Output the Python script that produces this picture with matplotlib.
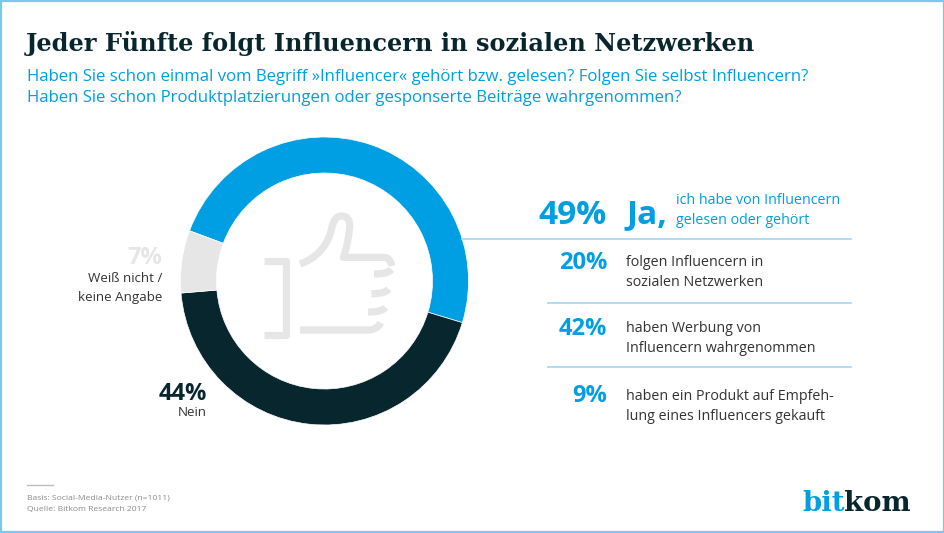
import matplotlib
matplotlib.use("Agg")
import matplotlib.pyplot as plt
from matplotlib.patches import PathPatch, Rectangle
from matplotlib.path import Path

W, H = 945, 533
BLUE = "#009fe3"
DARK = "#08262e"
GREY = "#e6e6e6"
LINE = "#a6dcf5"
TEXT = "#333333"

title = "Jeder Fünfte folgt Influencern in sozialen Netzwerken"
subtitle = ["Haben Sie schon einmal vom Begriff »Influencer« gehört bzw. gelesen? Folgen Sie selbst Influencern?",
            "Haben Sie schon Produktplatzierungen oder gesponserte Beiträge wahrgenommen?"]

answers = ["Ja", "Nein", "Weiß nicht / keine Angabe"]
shares = [49, 44, 7]
answer_colors = [BLUE, DARK, GREY]

detail_values = ["20%", "42%", "9%"]
detail_labels = [["folgen Influencern in", "sozialen Netzwerken"],
                 ["haben Werbung von", "Influencern wahrgenommen"],
                 ["haben ein Produkt auf Empfeh-", "lung eines Influencers gekauft"]]
footnotes = ["Basis: Social-Media-Nutzer (n=1011)", "Quelle: Bitkom Research 2017"]

plt.rcParams["font.family"] = ["Open Sans", "Lato", "DejaVu Sans"]
fig = plt.figure(figsize=(W / 100, H / 100), dpi=100, facecolor="white")

# overlay in pixel coordinates for the text and rules
ov = fig.add_axes([0, 0, 1, 1], zorder=2)
ov.set_xlim(0, W)
ov.set_ylim(H, 0)
ov.axis("off")
ov.patch.set_alpha(0)

# donut
cx, cy, R = 324.5, 281, 144
ax = fig.add_axes([(cx - R) / W, 1 - (cy + R) / H, 2 * R / W, 2 * R / H], zorder=1)
ax.pie(shares, colors=answer_colors, startangle=159.6, counterclock=False, radius=1,
       wedgeprops=dict(width=36 / 144, edgecolor="white", linewidth=0.5))
ax.set_xlim(-1, 1)
ax.set_ylim(-1, 1)

# border
ov.add_patch(Rectangle((0.5, 0.5), W - 1.5, H - 2, fill=False, ec="#7cc8ec", lw=1.6))


def stroke(points, codes):
    verts = [(170 + p[0] / 3, 130 + p[1] / 3) for p in points]
    ov.add_patch(PathPatch(Path(verts, codes), fc="none", ec=GREY, lw=5.2, capstyle="butt", joinstyle="round"))


M, L, C = Path.MOVETO, Path.LINETO, Path.CURVE4
# cuff
stroke([(283, 392), (348, 392), (348, 615), (283, 615)], [M, L, L, L])
# thumb and top of the hand
stroke([(390, 402), (440, 385), (475, 345), (485, 295),
        (490, 270), (500, 258), (515, 258),
        (535, 258), (542, 275), (538, 300),
        (535, 330), (528, 360), (520, 382),
        (640, 382),
        (655, 382), (663, 392), (665, 408)],
       [M, C, C, C, C, C, C, C, C, C, C, C, C, L, C, C, C])
# bottom of the hand
stroke([(390, 600), (595, 600), (612, 600), (625, 592), (632, 578)], [M, L, C, C, C])
# fingers
for x0, y0 in [(612, 432), (604, 491), (594, 546)]:
    stroke([(x0, y0), (x0 + 28, y0), (x0 + 45, y0 - 4), (x0 + 52, y0 - 14)], [M, C, C, C])

# header
ov.text(26, 43, title, family="DejaVu Serif", weight="bold", fontsize=17.3, color=DARK, va="center")
ov.text(27, 77, subtitle[0], fontsize=12.1, color=BLUE, va="center")
ov.text(27, 98, subtitle[1], fontsize=12.1, color=BLUE, va="center")

# donut labels
ov.text(162, 258, f"{shares[2]}%", fontsize=17, weight="bold", color=GREY, ha="right", va="center")
ov.text(162, 279, "Weiß nicht /", fontsize=9.6, color=TEXT, ha="right", va="center")
ov.text(162, 297, "keine Angabe", fontsize=9.6, color=TEXT, ha="right", va="center")
ov.text(207, 394, f"{shares[1]}%", fontsize=17, weight="bold", color=DARK, ha="right", va="center")
ov.text(207, 413, answers[1], fontsize=9.6, color=TEXT, ha="right", va="center")

# right panel
ov.text(607, 215, f"{shares[0]}%", fontsize=24, weight="bold", color=BLUE, ha="right", va="center")
ov.text(626, 215, answers[0] + ",", fontsize=24, weight="bold", color=BLUE, va="center")
ov.text(676, 201, "ich habe von Influencern", fontsize=10.3, color=BLUE, va="center")
ov.text(676, 220, "gelesen oder gehört", fontsize=10.3, color=BLUE, va="center")
ov.plot([462, 851], [239, 239], color=LINE, lw=1.3)

row_y = [263, 329, 396]
rule_y = [303, 367]
for val, lab, y in zip(detail_values, detail_labels, row_y):
    ov.text(607, y, val, fontsize=17, weight="bold", color=BLUE, ha="right", va="center")
    ov.text(626, y, lab[0], fontsize=10.3, color=TEXT, va="center")
    ov.text(626, y + 20, lab[1], fontsize=10.3, color=TEXT, va="center")
for y in rule_y:
    ov.plot([548, 851], [y, y], color=LINE, lw=1.3)

# footnote
ov.plot([27, 53], [485, 485], color="#bdbdbd", lw=1)
ov.text(27, 498, footnotes[0], fontsize=6.1, color="#8a8a8a", va="center")
ov.text(27, 509, footnotes[1], fontsize=6.1, color="#8a8a8a", va="center")

# logo
ov.text(802, 511, "bit", family="DejaVu Serif", weight="bold", fontsize=19.8, color=BLUE, va="baseline")
ov.text(844, 511, "kom", family="DejaVu Serif", weight="bold", fontsize=19.8, color=DARK, va="baseline")

fig.savefig("out.png", dpi=100)
